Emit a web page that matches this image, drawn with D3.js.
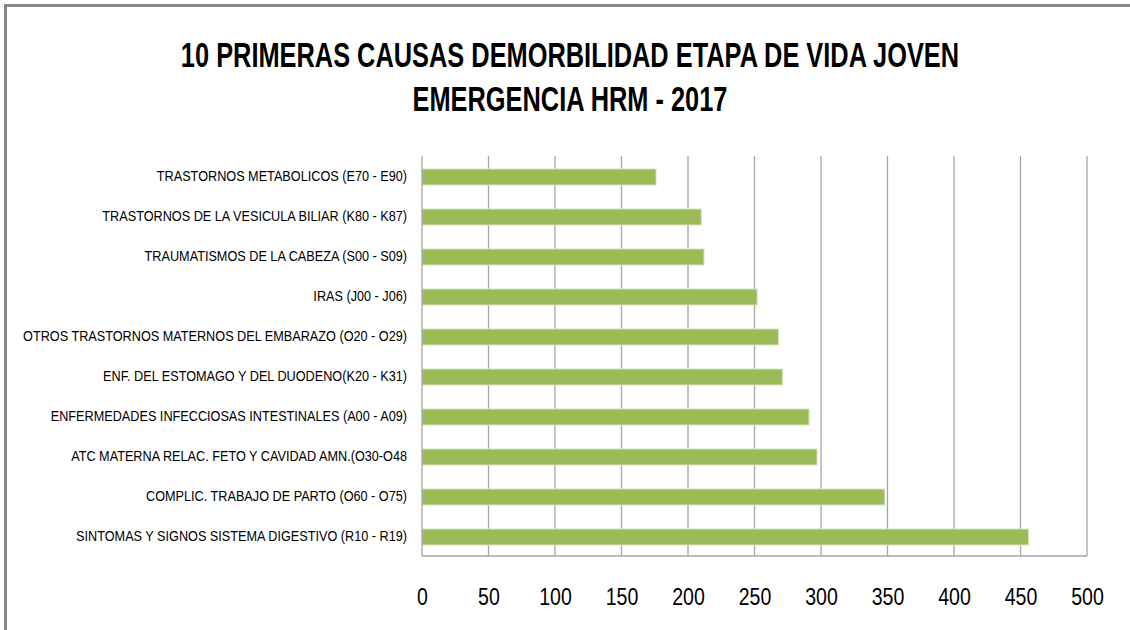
<!DOCTYPE html>
<html>
<head>
<meta charset="utf-8">
<script src="https://cdn.jsdelivr.net/npm/d3@7"></script>
<style>
  html, body { margin: 0; padding: 0; background: #fff; }
  svg { display: block; }
</style>
</head>
<body>
<svg id="chart" width="1130" height="630"></svg>
<script>
const titleLines = ["10 PRIMERAS CAUSAS DEMORBILIDAD ETAPA DE VIDA JOVEN", "EMERGENCIA HRM - 2017"];
const categories = [
  "TRASTORNOS METABOLICOS (E70 - E90)",
  "TRASTORNOS DE LA VESICULA BILIAR (K80 - K87)",
  "TRAUMATISMOS DE LA CABEZA (S00 - S09)",
  "IRAS (J00 - J06)",
  "OTROS TRASTORNOS MATERNOS DEL EMBARAZO (O20 - O29)",
  "ENF. DEL ESTOMAGO Y DEL DUODENO(K20 - K31)",
  "ENFERMEDADES INFECCIOSAS INTESTINALES (A00 - A09)",
  "ATC MATERNA RELAC. FETO Y CAVIDAD AMN.(O30-O48",
  "COMPLIC. TRABAJO DE PARTO  (O60 - O75)",
  "SINTOMAS Y SIGNOS  SISTEMA DIGESTIVO (R10 - R19)"
];
const values = [176, 210, 212, 252, 268, 271, 291, 297, 348, 456];
const xTicks = [0, 50, 100, 150, 200, 250, 300, 350, 400, 450, 500];

const svg = d3.select("#chart");
const plot = { left: 422, right: 1087, top: 156, bottom: 556 };

// Outer frame (top and left visible)
svg.append("line").attr("x1", 5).attr("x2", 1130).attr("y1", 5.5).attr("y2", 5.5)
  .attr("stroke", "#868686").attr("stroke-width", 3);
svg.append("line").attr("x1", 5.5).attr("x2", 5.5).attr("y1", 4).attr("y2", 630)
  .attr("stroke", "#868686").attr("stroke-width", 3);

// Helper: condense text horizontally
function condense(sel, factor) {
  sel.each(function() {
    const w = this.getComputedTextLength();
    d3.select(this).attr("textLength", w * factor).attr("lengthAdjust", "spacingAndGlyphs");
  });
}

// Title
const titleSel = svg.selectAll("text.title").data(titleLines).join("text")
  .attr("class", "title")
  .attr("x", 570)
  .attr("y", (d, i) => 67 + i * 44)
  .attr("text-anchor", "middle")
  .attr("font-family", "Liberation Sans, Arial, sans-serif")
  .attr("font-weight", "bold")
  .attr("font-size", 35)
  .attr("fill", "#000")
  .text(d => d);
condense(titleSel, 0.725);

const x = d3.scaleLinear().domain([0, 500]).range([plot.left, plot.right]);
const y = d3.scaleBand().domain(categories).range([plot.top, plot.bottom]).paddingInner(0.6).paddingOuter(0.3);

// Gridlines
svg.append("g")
  .selectAll("line").data(xTicks.slice(1)).join("line")
  .attr("x1", d => x(d)).attr("x2", d => x(d))
  .attr("y1", plot.top).attr("y2", plot.bottom)
  .attr("stroke", "#A6A6A6").attr("stroke-width", 1.3);

// Bars
svg.append("g")
  .selectAll("rect").data(values).join("rect")
  .attr("x", x(0))
  .attr("y", (d, i) => y(categories[i]) + 1)
  .attr("width", d => x(d) - x(0))
  .attr("height", y.bandwidth())
  .attr("fill", "#9BBB59")
  .attr("stroke", "#D7E4BD")
  .attr("stroke-width", 1);

// Axis lines
svg.append("line").attr("x1", plot.left).attr("x2", plot.left).attr("y1", plot.top).attr("y2", plot.bottom)
  .attr("stroke", "#A6A6A6").attr("stroke-width", 1.3);
svg.append("line").attr("x1", plot.left).attr("x2", plot.right).attr("y1", plot.bottom).attr("y2", plot.bottom)
  .attr("stroke", "#A6A6A6").attr("stroke-width", 1.3);

// X axis tick labels
const xAxis = d3.axisBottom(x).tickValues(xTicks).tickSize(0).tickPadding(0).tickFormat(d3.format("d"));
const gx = svg.append("g").attr("transform", `translate(0,${plot.bottom})`).call(xAxis);
gx.select(".domain").remove();
gx.selectAll("text")
  .attr("dy", null)
  .attr("y", 49)
  .attr("font-family", "Liberation Sans, Arial, sans-serif")
  .attr("font-size", 23)
  .attr("fill", "#000");
condense(gx.selectAll("text"), 0.85);

// Y axis category labels
const yAxis = d3.axisLeft(y).tickSize(0).tickPadding(15);
const gy = svg.append("g").attr("transform", `translate(${plot.left},1)`).call(yAxis);
gy.select(".domain").remove();
gy.selectAll("text")
  .attr("font-family", "Liberation Sans, Arial, sans-serif")
  .attr("font-size", 14)
  .attr("fill", "#000");
condense(gy.selectAll("text"), 0.905);
</script>
</body>
</html>
